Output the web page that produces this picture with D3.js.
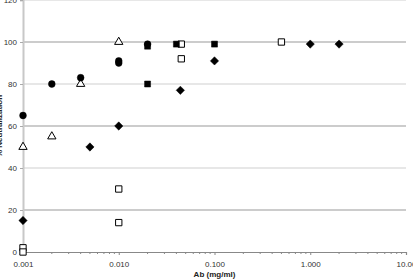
<!DOCTYPE html>
<html>
<head>
<meta charset="utf-8">
<script src="https://cdn.jsdelivr.net/npm/d3@7"></script>
<style>
  body { margin: 0; background: #fff; }
  svg { display: block; font-family: "Liberation Sans", Arial, sans-serif; }
</style>
</head>
<body>
<svg id="vis"></svg>
<script>
// values, Ab concentration (mg/ml) vs % neutralization
var circleX = [0.001, 0.002, 0.004, 0.01, 0.01, 0.02];
var circleY = [65, 80, 83, 91, 90, 99];

var triangleX = [0.001, 0.002, 0.004, 0.01];
var triangleY = [50, 55, 80, 100];

var diamondX = [0.001, 0.005, 0.01, 0.044, 0.1, 1.0, 2.0];
var diamondY = [15, 50, 60, 77, 91, 99, 99];

var openSquareX = [0.001, 0.001, 0.01, 0.01, 0.045, 0.045, 0.5];
var openSquareY = [2, 0, 30, 14, 92, 99, 100];

var fillSquareX = [0.02, 0.02, 0.04, 0.1];
var fillSquareY = [80, 98, 99, 99];

var yTicks = [0, 20, 40, 60, 80, 100, 120];
var xTicks = [0.001, 0.01, 0.1, 1, 10];
var xTickLabels = ["0.001", "0.010", "0.100", "1.000", "10.00"];

var width = 413, height = 280;
var svg = d3.select('#vis').attr('width', width).attr('height', height);

var x = d3.scaleLog().domain([0.001, 10]).range([23, 406]);
var y = d3.scaleLinear().domain([0, 120]).range([252, 0]);

// horizontal grid, alternating shades like the original
svg.append('g').selectAll('line').data(yTicks.filter(function(d) { return d > 0; })).enter().append('line')
    .attr('x1', x(0.001)).attr('x2', x(10))
    .attr('y1', function(d) { return y(d); }).attr('y2', function(d) { return y(d); })
    .attr('stroke', function(d) { return (d / 20) % 2 == 1 ? '#9a9a9a' : '#d0d0d0'; })
    .attr('stroke-width', 1.2);

// y axis
var yAxis = d3.axisLeft(y).tickValues(yTicks).tickSize(3).tickPadding(3);
var gy = svg.append('g').attr('transform', 'translate(' + x(0.001) + ',0)').call(yAxis);
gy.select('.domain').attr('stroke', '#c8c8c8').attr('stroke-width', 2);
gy.selectAll('.tick line').attr('stroke', '#aaa');
gy.selectAll('text').attr('font-size', 8).attr('fill', '#333');

// x axis with minor ticks
var minor = [];
[0.001, 0.01, 0.1, 1].forEach(function(d) {
    for (var i = 2; i <= 9; i++) minor.push(d * i);
});
var gx = svg.append('g').attr('transform', 'translate(0,' + y(0) + ')');
gx.call(d3.axisBottom(x).tickValues(xTicks).tickFormat(function(d, i) { return xTickLabels[i]; })
    .tickSize(3).tickPadding(6));
gx.select('.domain').attr('stroke', '#888').attr('stroke-width', 1.2);
gx.selectAll('.tick line').attr('stroke', '#888');
gx.selectAll('text').attr('font-size', 8).attr('fill', '#333');
gx.append('g').selectAll('line').data(minor).enter().append('line')
    .attr('x1', function(d) { return x(d); }).attr('x2', function(d) { return x(d); })
    .attr('y1', 0).attr('y2', 2).attr('stroke', '#888');

svg.append('text').attr('x', (x(0.001) + x(10)) / 2).attr('y', 277)
    .attr('text-anchor', 'middle').attr('font-size', 8).attr('font-weight', 'bold')
    .attr('fill', '#222').text('Ab (mg/ml)');

svg.append('text').attr('transform', 'translate(2,' + y(60) + ') rotate(-90)')
    .attr('text-anchor', 'middle').attr('font-size', 8).attr('font-weight', 'bold')
    .attr('fill', '#222').text('% Neutralization');

function drawSeries(xs, ys, symbol, size, filled) {
    var sym = d3.symbol().type(symbol).size(size);
    svg.append('g').selectAll('path').data(xs).enter().append('path')
        .attr('d', sym)
        .attr('transform', function(d, i) { return 'translate(' + x(d) + ',' + y(ys[i]) + ')'; })
        .attr('fill', filled ? '#000' : '#fff')
        .attr('stroke', '#000').attr('stroke-width', filled ? 0.5 : 1);
}

drawSeries(openSquareX, openSquareY, d3.symbolSquare, 40, false);
drawSeries(triangleX, triangleY, d3.symbolTriangle, 30, false);
drawSeries(fillSquareX, fillSquareY, d3.symbolSquare, 36, true);
drawSeries(diamondX, diamondY, d3.symbolDiamond2, 44, true);
drawSeries(circleX, circleY, d3.symbolCircle, 36, true);
</script>
</body>
</html>
